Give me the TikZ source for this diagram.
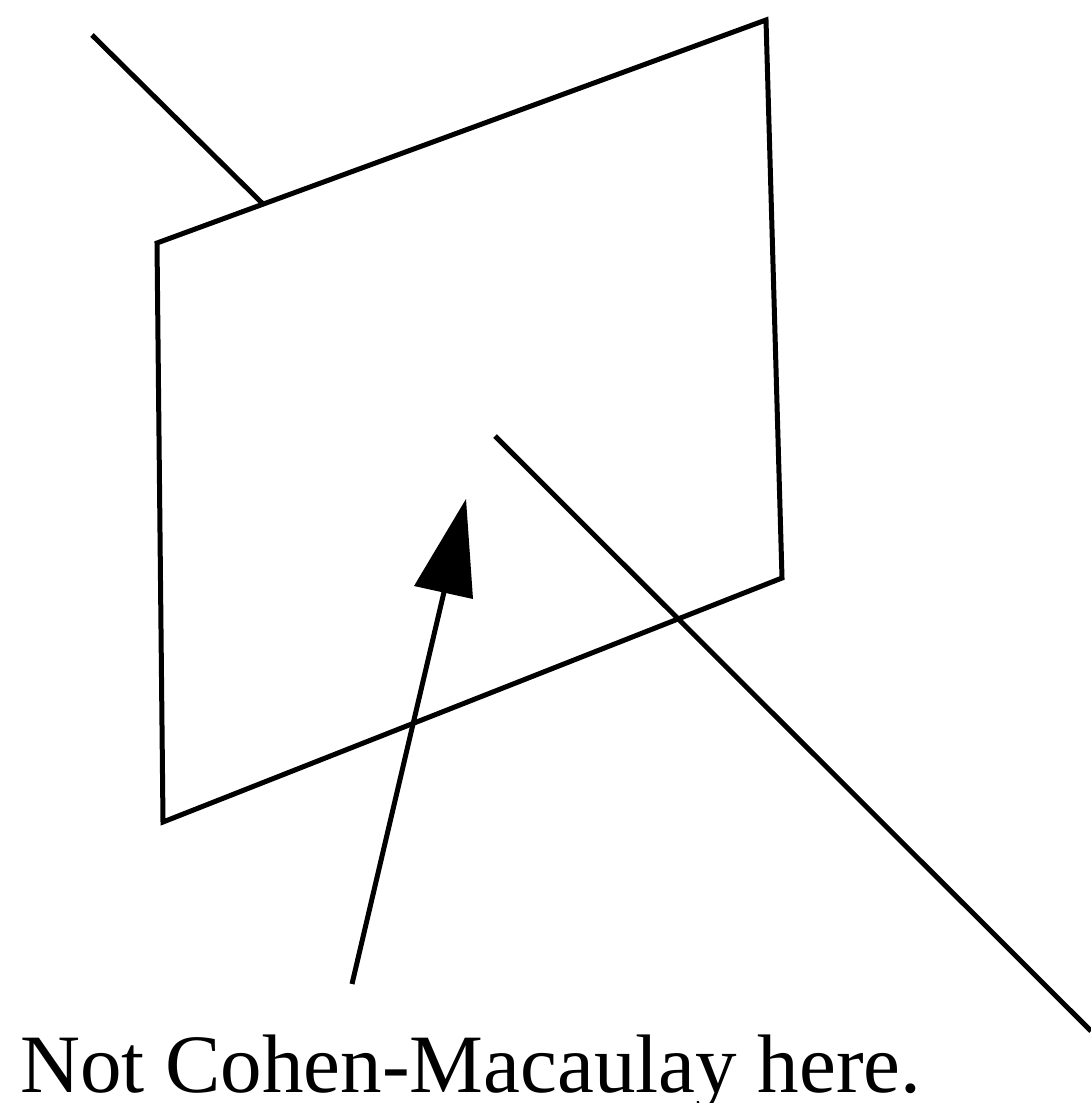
\documentclass[tikz,border=0pt]{standalone}
\usepackage{fontspec}
\setmainfont{Liberation Serif}
\begin{document}
\begin{tikzpicture}[x=1pt,y=-1pt]
            \useasboundingbox (0,0) rectangle (1091,1103);
            \tikzset{edge/.style={line width=5pt, line join=miter}}
            % plane
            \draw[edge] (157,243) coordinate (pa) -- (766,20) coordinate (pb) -- (782,578) coordinate (pc) -- (163,822) coordinate (pd) -- cycle;
            % line behind the plane, then in front of it
            \coordinate (ls) at (92,35);
            \coordinate (lt) at (264,205);
            \coordinate (ru) at (495,436);
            \coordinate (rv) at (1091,1031);
            \draw[edge] (ls) -- (lt);
            \draw[edge] (ru) -- (rv);
            % arrow to the point
            \coordinate (tail) at (352,984);
            \coordinate (tip) at (466,499);
            \coordinate (neck) at (444,592);
            \draw[edge] (tail) -- (neck);
            \fill (tip) -- (414,586) -- (473,599) -- cycle;
            \node[anchor=base west, inner sep=0pt, font=\fontsize{83}{83}\selectfont] (note) at (20,1092) {Not Cohen-Macaulay here.};
        \end{tikzpicture}
\end{document}
